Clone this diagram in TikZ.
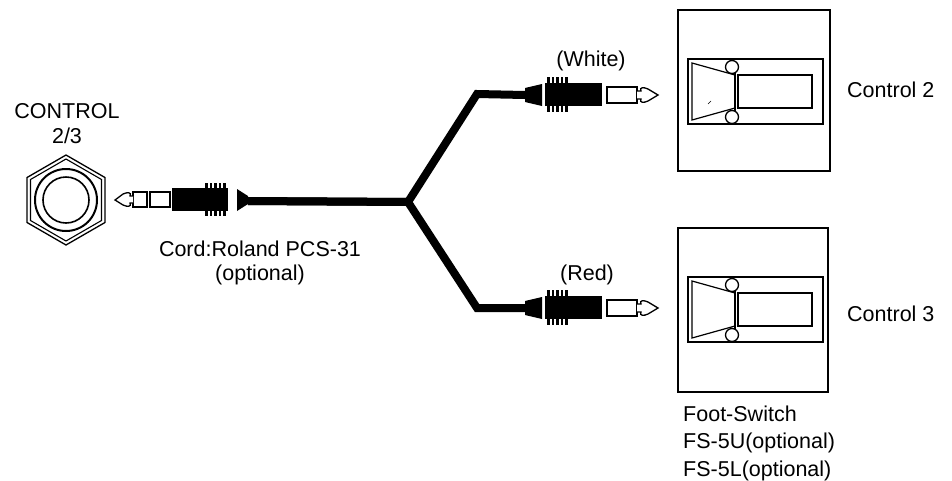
\documentclass[tikz,border=0pt]{standalone}
\usepackage{fontspec}
\setmainfont{Liberation Sans}
\begin{document}
\begin{tikzpicture}[x=1pt,y=-1pt,
  lbl/.style={font=\fontsize{21.5}{24}\selectfont, inner sep=0pt, anchor=base},
  lbll/.style={lbl, anchor=base west},
  cord/.style={line width=8pt, line join=miter, line cap=butt},
  outl/.style={draw=black, line width=1.3pt, fill=white},
  thinl/.style={draw=black, line width=1.2pt},
  monoplug/.pic={
    \fill (0,-7) -- (17,-11) -- (17,11) -- (0,7) -- cycle;
    \fill (20,-12) rectangle (77,11);
    \foreach \i in {0,...,4} {
      \fill ({22+4.6*\i},-18) rectangle ({24.6+4.6*\i},-12);
      \fill ({22+4.6*\i},11) rectangle ({24.6+4.6*\i},17);
    }
    \draw[outl] (82,-8) rectangle (112,8);
    \draw[outl] (112,-4) -- (116,-4) .. controls (114,-8) and (119,-8) .. (123,-6)
       -- (133,0) -- (123,6) .. controls (119,8) and (114,8) .. (116,4) -- (112,4);
  },
  stereoplug/.pic={
    \fill (0,-4) -- (-11,-11) -- (-11,11) -- (0,4) -- cycle;
    \fill (-20,-12) rectangle (-76,11);
    \foreach \i in {0,...,4} {
      \fill ({-22-4.6*\i},-17) rectangle ({-24.6-4.6*\i},-12);
      \fill ({-22-4.6*\i},11) rectangle ({-24.6-4.6*\i},16);
    }
    \draw[outl] (-78,-8) rectangle (-98,7);
    \draw[outl] (-101,-8) rectangle (-115,7);
    \draw[outl] (-115,-4) -- (-118,-4) .. controls (-116,-8) and (-121,-8) .. (-125,-6)
       -- (-133,0) -- (-125,5) .. controls (-121,7) and (-116,7) .. (-118,3) -- (-115,3);
  },
  switchface/.pic={
    \draw[thinl] (10,49) rectangle (145,114);
    \draw[thinl] (14,53) -- (57,65) -- (57,98) -- (14,110) -- cycle;
    \draw[thinl] (57,57) -- (57,107);
    \draw[outl] (54,57) circle (6.5);
    \draw[outl] (54,107) circle (6.5);
    \draw[thinl] (60,65) rectangle (134,98);
  }
]
\useasboundingbox (0,0) rectangle (952,480);

% jack
\coordinate (jack) at (66,200);
\draw[line width=1.3pt] (jack) +(90:45) -- +(30:45) -- +(-30:45) -- +(-90:45) -- +(-150:45) -- +(150:45) -- cycle;
\draw[line width=1.1pt] (jack) +(90:41) -- +(30:41) -- +(-30:41) -- +(-90:41) -- +(-150:41) -- +(150:41) -- cycle;
\draw[line width=2pt] (jack) circle (31);
\draw[line width=1.6pt] (jack) circle (23);

\node[lbl] (ctl) at (67,118) {CONTROL};
\node[lbl] (ctlnum) at (67,143) {2/3};

% cord
\coordinate (lend) at (248,201);
\coordinate (junc) at (408,202);
\coordinate (ucorner) at (477,94);
\coordinate (uend) at (525,95);
\coordinate (lcorner) at (477,308);
\coordinate (lowend) at (525,308);
\draw[cord] (lend) -- (junc) -- (ucorner) -- (uend);
\draw[cord] (lend) -- (junc) -- (lcorner) -- (lowend);

\pic at (248,200) {stereoplug};
\pic at (uend) {monoplug};
\pic at (lowend) {monoplug};

\node[lbl] (cordlbl) at (260,256) {Cord:Roland PCS-31};
\node[lbl] (cordopt) at (260,280) {(optional)};
\node[lbl] (white) at (591,66) {(White)};
\node[lbl] (red) at (587,280) {(Red)};

% foot switches
\draw[thinl] (678,10) rectangle (830,171);
\pic at (678,10) {switchface};
\draw[line width=0.6pt] (708,104) -- (711,101);
\draw[thinl] (678,228) rectangle (828,392);
\pic at (678,228) {switchface};

\node[lbll] (c2) at (847,97) {Control 2};
\node[lbll] (c3) at (847,321) {Control 3};

\node[lbll] (fs1) at (683,421) {Foot-Switch};
\node[lbll] (fs2) at (683,448.5) {FS-5U(optional)};
\node[lbll] (fs3) at (683,476) {FS-5L(optional)};
\end{tikzpicture}
\end{document}
